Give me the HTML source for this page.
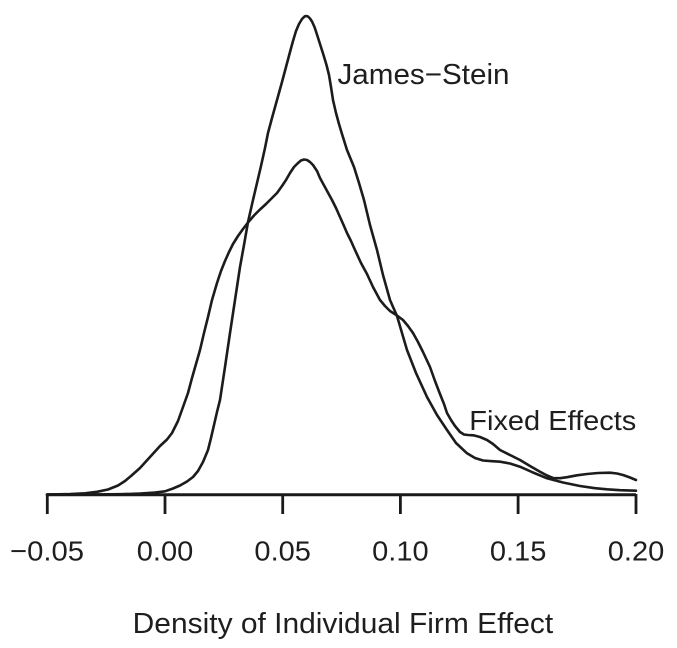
<!DOCTYPE html>
<html>
<head>
<meta charset="utf-8">
<style>
  html, body { margin: 0; padding: 0; background: #ffffff; }
  svg { display: block; }
  text { font-family: "Liberation Sans", "DejaVu Sans", sans-serif; fill: #1e1e1e; }
</style>
</head>
<body>
<svg width="677" height="648" viewBox="0 0 677 648" xmlns="http://www.w3.org/2000/svg">
  <rect width="677" height="648" fill="#ffffff"/>

  <!-- James-Stein curve -->
  <polyline fill="none" stroke="#1c1c1c" stroke-width="2.6" stroke-linejoin="round" stroke-linecap="round"
    points="47,494.5 80,494.5 100,494.4 120,494.2 140,493.6 155,492.6 165,491.3 173,488.5 180,485.5 187,481.5 193,477 198,471 203,462 208,450 211,438 214,425 217,412 220,400 225,367 230,333 235,300 240,267 244,245 248,222 253,200 257,183 261,166 265,148 268,133 272,118 277,100 282,82 286,67 290,52 293,41 296,31 299,24 302,19 304.5,16.5 306,16 308,16.5 310,18.5 312,21.5 314.5,27 316.5,33 320,44 323.5,55 326.5,65 329,75 331,87 333,100 336,113 339,124 342,134 347,150 354,167 359,183 364,200 370,225 377,250 383,275 390,300 397,316 402,333 407,350 416,373 427,397 437,415 447,430 456,443 467,453.3 475,458 483,460.5 492,461.2 500,461.7 510,463.5 520,466.7 533,472.5 547,478.3 563,482.5 580,486 595,488.2 607,489.3 620,490.2 636,490.7"/>

  <!-- Fixed Effects curve -->
  <polyline fill="none" stroke="#1c1c1c" stroke-width="2.6" stroke-linejoin="round" stroke-linecap="round"
    points="47,494.5 70,494 85,493.3 97,491.8 108,489.5 118,485.5 125,481 131,476 140,468 150,457 160,446 167,439.5 172,433 178,421 183,407 188,393 192,378 196,364 200,350 204,333 208,317 212,300 217,283 221,271 225,261 229,252 233,244 238,236 243,229 248,222.5 254,215.5 260,209.5 266,204 272,198 277,193 282,186 286,180 290,173 294,167 298,163 301,160.5 304,159.5 307,160 310,162 313,165 317,171 320,178 326,189 332,200 336,208 340,217 344,226 347,233 351,241 355,250 361,263 367,274 373,287 380,300 385,306 390,311 397,315.5 403,320 408,326 413,333 418,342 423,352 430,367 435,381 440,394 444,404 447,413 451,420 455,426 460,432 464,434.5 468,435 473.3,435.3 480,437 487,440 493,444 500,450 510,455 520,460 530,466 540,471.7 547,475.5 553,478 560,478.2 567,477.2 577,475.3 587,474 598,473 610,472.7 617,473.5 623,475 630,477.5 636,480"/>

  <!-- x axis -->
  <line x1="47.3" y1="494.7" x2="636" y2="494.7" stroke="#1a1a1a" stroke-width="3"/>
  <g stroke="#1a1a1a" stroke-width="2.8">
    <line x1="47.3" y1="494" x2="47.3" y2="514"/>
    <line x1="165" y1="494" x2="165" y2="514"/>
    <line x1="282.7" y1="494" x2="282.7" y2="514"/>
    <line x1="400.4" y1="494" x2="400.4" y2="514"/>
    <line x1="518.1" y1="494" x2="518.1" y2="514"/>
    <line x1="636" y1="494" x2="636" y2="514"/>
  </g>

  <!-- tick labels -->
  <g font-size="28" text-anchor="middle">
    <text x="47" y="560.5" textLength="74" lengthAdjust="spacingAndGlyphs">−0.05</text>
    <text x="165" y="560.5" textLength="56.5" lengthAdjust="spacingAndGlyphs">0.00</text>
    <text x="282.7" y="560.5" textLength="56.5" lengthAdjust="spacingAndGlyphs">0.05</text>
    <text x="400.4" y="560.5" textLength="56.5" lengthAdjust="spacingAndGlyphs">0.10</text>
    <text x="518.1" y="560.5" textLength="56.5" lengthAdjust="spacingAndGlyphs">0.15</text>
    <text x="636" y="560.5" textLength="56.5" lengthAdjust="spacingAndGlyphs">0.20</text>
  </g>

  <!-- curve labels -->
  <text x="337.5" y="84" font-size="29" textLength="172" lengthAdjust="spacingAndGlyphs">James−Stein</text>
  <text x="469.3" y="430" font-size="28" textLength="167" lengthAdjust="spacingAndGlyphs">Fixed Effects</text>

  <!-- axis title -->
  <text x="132.7" y="633" font-size="28.5" textLength="420.5" lengthAdjust="spacingAndGlyphs">Density of Individual Firm Effect</text>
</svg>
</body>
</html>
